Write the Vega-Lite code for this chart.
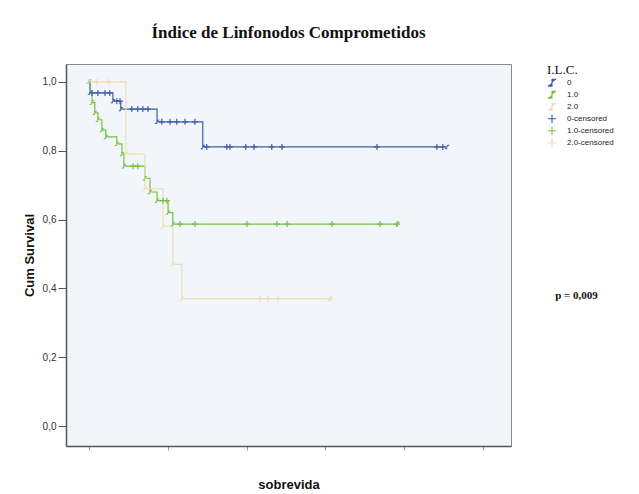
{
  "$schema": "https://vega.github.io/schema/vega-lite/v6.json",
  "width": 445,
  "height": 382,
  "autosize": "none",
  "padding": {"left": 66, "top": 64, "right": 128, "bottom": 48},
  "background": "white",
  "config": {
    "view": {"fill": "#f2f5f9", "stroke": "#8a8a8a", "strokeWidth": 1},
    "font": "Liberation Sans"
  },
  "title": {
    "text": "Índice de Linfonodos Comprometidos",
    "font": "Liberation Serif",
    "fontSize": 17,
    "fontWeight": "bold",
    "color": "#111",
    "anchor": "middle",
    "offset": 22
  },
  "datasets": {
    "curves": [
      {"g": "0", "t": 0, "s": 1.0},
      {"g": "0", "t": 0.3, "s": 0.968},
      {"g": "0", "t": 6.1, "s": 0.944},
      {"g": "0", "t": 8.1, "s": 0.921},
      {"g": "0", "t": 17.3, "s": 0.884},
      {"g": "0", "t": 28.9, "s": 0.811},
      {"g": "0", "t": 90.9, "s": 0.811},
      {"g": "1.0", "t": 0, "s": 1.0},
      {"g": "1.0", "t": 0.3, "s": 0.97},
      {"g": "1.0", "t": 0.8, "s": 0.94},
      {"g": "1.0", "t": 1.5, "s": 0.91},
      {"g": "1.0", "t": 2.3, "s": 0.89},
      {"g": "1.0", "t": 3.3, "s": 0.86},
      {"g": "1.0", "t": 4.3, "s": 0.84},
      {"g": "1.0", "t": 7.1, "s": 0.82},
      {"g": "1.0", "t": 8.4, "s": 0.79},
      {"g": "1.0", "t": 8.9, "s": 0.755},
      {"g": "1.0", "t": 14.2, "s": 0.72},
      {"g": "1.0", "t": 15.5, "s": 0.68},
      {"g": "1.0", "t": 17.3, "s": 0.655},
      {"g": "1.0", "t": 20.1, "s": 0.62},
      {"g": "1.0", "t": 21.3, "s": 0.587},
      {"g": "1.0", "t": 78.4, "s": 0.587},
      {"g": "2.0", "t": 0, "s": 1.0},
      {"g": "2.0", "t": 9.4, "s": 0.79},
      {"g": "2.0", "t": 14.2, "s": 0.69},
      {"g": "2.0", "t": 18.8, "s": 0.58},
      {"g": "2.0", "t": 21.3, "s": 0.47},
      {"g": "2.0", "t": 23.6, "s": 0.37},
      {"g": "2.0", "t": 61.2, "s": 0.37}
    ],
    "censors": [
      {"g": "0-censored", "t": 0.8, "s": 0.968},
      {"g": "0-censored", "t": 2.3, "s": 0.968},
      {"g": "0-censored", "t": 4.1, "s": 0.968},
      {"g": "0-censored", "t": 5.3, "s": 0.968},
      {"g": "0-censored", "t": 7.1, "s": 0.944},
      {"g": "0-censored", "t": 7.9, "s": 0.944},
      {"g": "0-censored", "t": 10.9, "s": 0.921},
      {"g": "0-censored", "t": 12.4, "s": 0.921},
      {"g": "0-censored", "t": 13.7, "s": 0.921},
      {"g": "0-censored", "t": 15.0, "s": 0.921},
      {"g": "0-censored", "t": 18.5, "s": 0.884},
      {"g": "0-censored", "t": 20.6, "s": 0.884},
      {"g": "0-censored", "t": 22.3, "s": 0.884},
      {"g": "0-censored", "t": 24.4, "s": 0.884},
      {"g": "0-censored", "t": 26.9, "s": 0.884},
      {"g": "0-censored", "t": 29.9, "s": 0.811},
      {"g": "0-censored", "t": 35.0, "s": 0.811},
      {"g": "0-censored", "t": 35.8, "s": 0.811},
      {"g": "0-censored", "t": 39.8, "s": 0.811},
      {"g": "0-censored", "t": 41.9, "s": 0.811},
      {"g": "0-censored", "t": 46.4, "s": 0.811},
      {"g": "0-censored", "t": 49.0, "s": 0.811},
      {"g": "0-censored", "t": 73.1, "s": 0.811},
      {"g": "0-censored", "t": 88.3, "s": 0.811},
      {"g": "0-censored", "t": 89.8, "s": 0.811},
      {"g": "1.0-censored", "t": 11.2, "s": 0.755},
      {"g": "1.0-censored", "t": 12.4, "s": 0.755},
      {"g": "1.0-censored", "t": 18.8, "s": 0.655},
      {"g": "1.0-censored", "t": 19.8, "s": 0.655},
      {"g": "1.0-censored", "t": 23.1, "s": 0.587},
      {"g": "1.0-censored", "t": 26.9, "s": 0.587},
      {"g": "1.0-censored", "t": 40.1, "s": 0.587},
      {"g": "1.0-censored", "t": 47.7, "s": 0.587},
      {"g": "1.0-censored", "t": 50.3, "s": 0.587},
      {"g": "1.0-censored", "t": 61.7, "s": 0.587},
      {"g": "1.0-censored", "t": 73.9, "s": 0.587},
      {"g": "1.0-censored", "t": 78.2, "s": 0.587},
      {"g": "2.0-censored", "t": 2.0, "s": 1.0},
      {"g": "2.0-censored", "t": 5.0, "s": 1.0},
      {"g": "2.0-censored", "t": 43.4, "s": 0.37},
      {"g": "2.0-censored", "t": 45.4, "s": 0.37},
      {"g": "2.0-censored", "t": 48.0, "s": 0.37},
      {"g": "2.0-censored", "t": 61.2, "s": 0.37}
    ],
    "notes": [
      {"label": "p = 0,009", "t": 118.3, "s": 0.378}
    ]
  },
  "encoding": {
    "x": {
      "field": "t",
      "type": "quantitative",
      "scale": {"domain": [-5.8, 107.1], "nice": false, "zero": false},
      "axis": {
        "title": "sobrevida",
        "titleFont": "Liberation Sans",
        "titleFontSize": 13,
        "titleFontWeight": "bold",
        "titleColor": "#111",
        "titlePadding": 28,
        "values": [0, 20, 40, 60, 80, 100],
        "labels": false,
        "grid": false,
        "domainColor": "#555",
        "domainWidth": 1.5,
        "tickColor": "#999",
        "tickSize": 4
      }
    },
    "y": {
      "field": "s",
      "type": "quantitative",
      "scale": {"domain": [-0.058, 1.052], "nice": false, "zero": false},
      "axis": {
        "title": "Cum Survival",
        "titleFont": "Liberation Sans",
        "titleFontSize": 13,
        "titleFontWeight": "bold",
        "titleColor": "#111",
        "titlePadding": 6,
        "values": [0, 0.2, 0.4, 0.6, 0.8, 1.0],
        "labelExpr": "replace(format(datum.value, '.1f'), '.', ',')",
        "labelFont": "Liberation Sans",
        "labelFontSize": 10,
        "labelColor": "#333",
        "labelPadding": 2,
        "grid": false,
        "domainColor": "#555",
        "domainWidth": 1.5,
        "tickColor": "#555",
        "tickSize": 8
      }
    }
  },
  "layer": [
    {
      "data": {"name": "curves"},
      "mark": {"type": "line", "interpolate": "step-after", "strokeWidth": 1.2},
      "encoding": {
        "color": {"field": "g", "type": "nominal", "title": "I.L.C."},
        "shape": {"field": "g", "type": "nominal", "title": "I.L.C."}
      }
    },
    {
      "data": {"name": "censors"},
      "mark": {"type": "point", "filled": false, "size": 36, "strokeWidth": 1.2, "opacity": 1},
      "encoding": {
        "color": {
          "field": "g",
          "type": "nominal",
          "title": "I.L.C.",
          "scale": {
            "domain": ["0", "1.0", "2.0", "0-censored", "1.0-censored", "2.0-censored"],
            "range": ["#3e5fa6", "#78c043", "#ebe0b6", "#3e5fa6", "#78c043", "#ebe0b6"]
          },
          "legend": {
            "orient": "right",
            "offset": 36,
            "title": "I.L.C.",
            "titleFont": "Liberation Serif",
            "titleFontSize": 13,
            "titleFontWeight": "normal",
            "titleColor": "#111",
            "titlePadding": 0,
            "labelFont": "Liberation Sans",
            "labelFontSize": 8,
            "labelColor": "#222",
            "labelOffset": 10,
            "rowPadding": 0,
            "clipHeight": 11.5,
            "symbolSize": 70,
            "symbolStrokeWidth": 1.1,
            "symbolFillColor": "transparent"
          }
        },
        "shape": {
          "field": "g",
          "type": "nominal",
          "title": "I.L.C.",
          "scale": {
            "domain": ["0", "1.0", "2.0", "0-censored", "1.0-censored", "2.0-censored"],
            "range": [
              "M-1,0.8H0V-0.8H1",
              "M-1,0.8H0V-0.8H1",
              "M-1,0.8H0V-0.8H1",
              "M-1,0H1M0,-1V1",
              "M-1,0H1M0,-1V1",
              "M-1,0H1M0,-1V1"
            ]
          }
        }
      }
    },
    {
      "data": {"name": "notes"},
      "mark": {"type": "text", "align": "left", "baseline": "middle", "clip": false, "font": "Liberation Serif", "fontSize": 11, "fontWeight": "bold", "color": "#111"},
      "encoding": {
        "text": {"field": "label", "type": "nominal"}
      }
    }
  ]
}
